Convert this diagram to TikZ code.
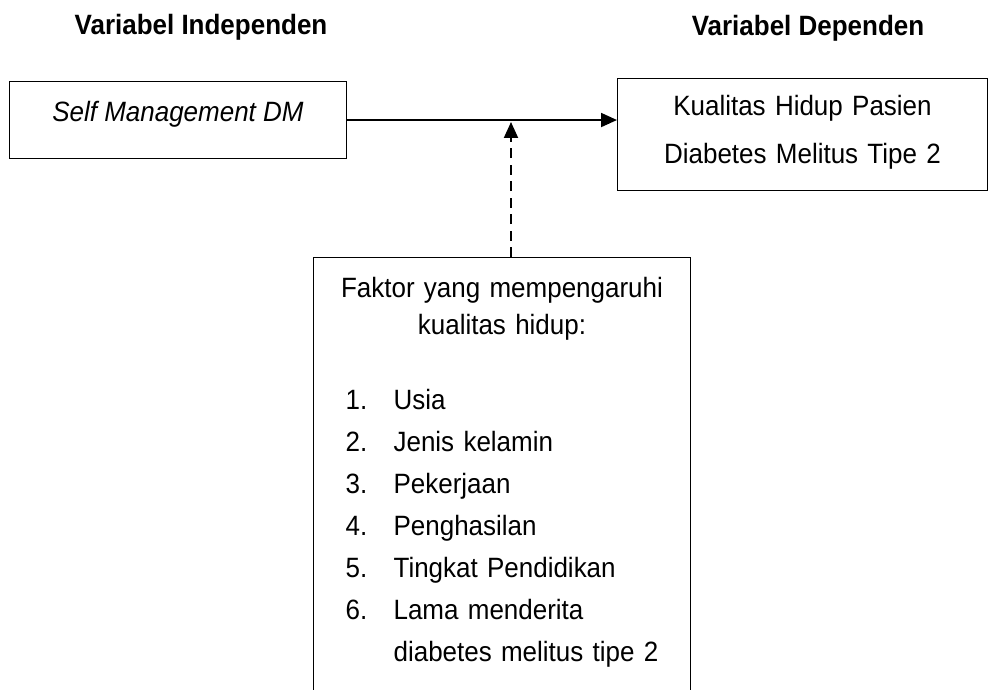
\documentclass[tikz,border=0pt]{standalone}
\usepackage{fontspec}
\setmainfont[FakeStretch=0.93]{Liberation Sans}
\usetikzlibrary{arrows.meta,positioning}

\begin{document}
\begin{tikzpicture}[x=0.02cm,y=-0.02cm,>=Latex,
  varbox/.style={draw,line width=0.6pt,inner xsep=0pt,inner ysep=0pt,
    anchor=north west,font=\fontsize{15.9}{21}\selectfont},
  heading/.style={inner sep=0pt,font=\fontsize{15.9}{18}\selectfont\bfseries},
  arr/.style={-{Triangle[length=3.2mm,width=2.8mm]},line width=1.1pt},
  dasharr/.style={arr,dash pattern=on 0.2cm off 0.13cm}]
\path[use as bounding box,clip] (0,0) rectangle (988,690);

\node[heading] (indep) at (201,27) {Variabel Independen};
\node[heading] (dep) at (808,28) {Variabel Dependen};

\node[varbox,minimum width=6.74cm,text height=0.8cm,text depth=0.74cm] (self) at (9,81)
  {\itshape Self Management DM};
\node[varbox,text width=7.4cm,align=center,text height=0.74cm,text depth=1.5cm,
  font=\fontsize{15.9}{27.3}\selectfont] (qol) at (617,78)
  {Kualitas Hidup Pasien\\Diabetes Melitus Tipe 2};

\node[varbox,text width=7.54cm,align=center,text height=0.8cm,text depth=8.6cm] (factor) at (313,257)
  {Faktor yang mempengaruhi\\kualitas hidup:\\[21.7pt]
  {\fontsize{15.9}{23.9}\selectfont\begin{tabular}[t]{@{}p{0.96cm}@{}l@{}}
  1. & Usia\\
  2. & Jenis kelamin\\
  3. & Pekerjaan\\
  4. & Penghasilan\\
  5. & Tingkat Pendidikan\\
  6. & Lama menderita\\
     & diabetes melitus tipe 2
  \end{tabular}}\hspace*{0.2cm}};

\draw[arr] (self.east) -- (self.east -| qol.west);
\coordinate (hit) at (511,122);
\draw[dasharr] (factor.north -| hit) -- (hit);
\end{tikzpicture}
\end{document}
